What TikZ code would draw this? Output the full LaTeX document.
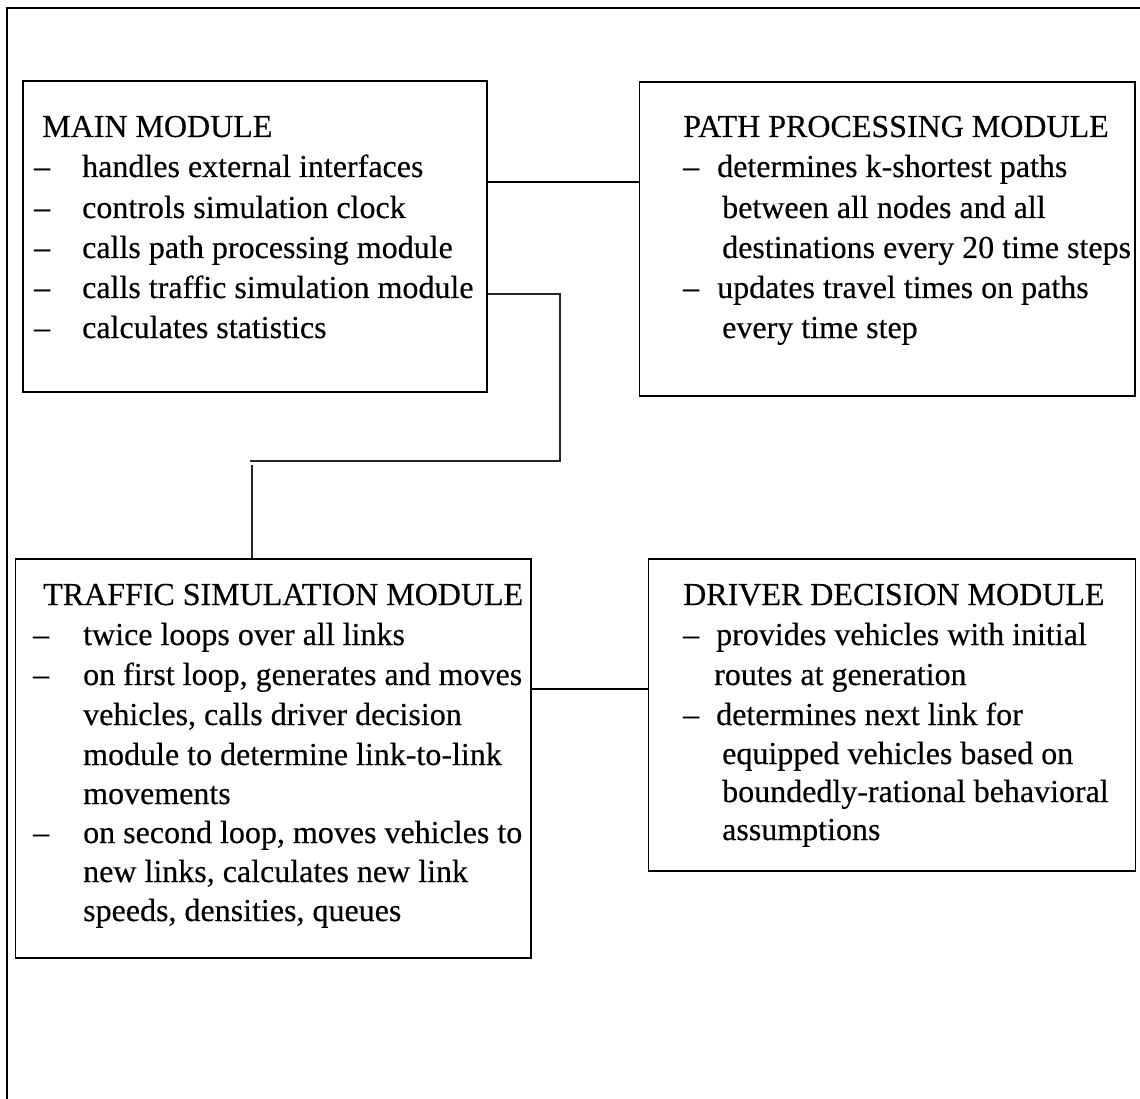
\documentclass[tikz,border=0pt]{standalone}
\usepackage{fontspec}
\setmainfont[FakeBold=0.35]{Liberation Serif}
\begin{document}
\begin{tikzpicture}[x=1pt,y=-1pt,
  box/.style={draw=black, line width=1.8pt, anchor=north west, inner sep=0pt},
  txt/.style={anchor=base west, inner sep=0pt, font=\fontsize{32}{38}\selectfont},
  link/.style={draw=black, line width=1.8pt},
  thinlink/.style={draw=black!85, line width=1.2pt}]
\useasboundingbox (0,0) rectangle (1140,1099);

% open frame: left and top edges only
\draw[line width=1.7pt] (7,1099) -- (7,8) -- (1140,8);

% module boxes
\node[box, minimum width=464pt, minimum height=311pt] (main) at (22,80) {};
\node[box, minimum width=495.5pt, minimum height=314pt] (path) at (638.5,81) {};
\node[box, minimum width=515.5pt, minimum height=399pt] (traffic) at (14.5,558) {};
\node[box, minimum width=487pt, minimum height=312pt] (driver) at (647.5,558) {};

% main module text
\node[txt] (m0) at (42,137) {MAIN MODULE};
\node[txt] (m1d) at (34,177) {--};
\node[txt] (m1) at (82,177) {handles external interfaces};
\node[txt] (m2d) at (34,218) {--};
\node[txt] (m2) at (82,218) {controls simulation clock};
\node[txt] (m3d) at (34,258) {--};
\node[txt] (m3) at (82,258) {calls path processing module};
\node[txt] (m4d) at (34,298) {--};
\node[txt] (m4) at (82,298) {calls traffic simulation module};
\node[txt] (m5d) at (34,338) {--};
\node[txt] (m5) at (82,338) {calculates statistics};

% path processing module text
\node[txt] (p0) at (683,137) {PATH PROCESSING MODULE};
\node[txt] (p1d) at (683,177) {--};
\node[txt] (p1) at (717,177) {determines k-shortest paths};
\node[txt] (p2) at (722,218) {between all nodes and all};
\node[txt] (p3) at (722,258) {destinations every 20 time steps};
\node[txt] (p4d) at (683,298) {--};
\node[txt] (p4) at (717,298) {updates travel times on paths};
\node[txt] (p5) at (722,338) {every time step};

% traffic simulation module text
\node[txt] (t0) at (43,605) {TRAFFIC SIMULATION MODULE};
\node[txt] (t1d) at (33,645) {--};
\node[txt] (t1) at (83,645) {twice loops over all links};
\node[txt] (t2d) at (33,685) {--};
\node[txt] (t2) at (83,685) {on first loop, generates and moves};
\node[txt] (t3) at (83,725) {vehicles, calls driver decision};
\node[txt] (t4) at (83,765) {module to determine link-to-link};
\node[txt] (t5) at (83,804) {movements};
\node[txt] (t6d) at (33,843) {--};
\node[txt] (t6) at (83,843) {on second loop, moves vehicles to};
\node[txt] (t7) at (83,882) {new links, calculates new link};
\node[txt] (t8) at (83,921) {speeds, densities, queues};

% driver decision module text
\node[txt] (d0) at (683,605) {DRIVER DECISION MODULE};
\node[txt] (d1d) at (683,645) {--};
\node[txt] (d1) at (716,645) {provides vehicles with initial};
\node[txt] (d2) at (714,685) {routes at generation};
\node[txt] (d3d) at (683,725) {--};
\node[txt] (d3) at (716,725) {determines next link for};
\node[txt] (d4) at (722,764) {equipped vehicles based on};
\node[txt] (d5) at (722,802) {boundedly-rational behavioral};
\node[txt] (d6) at (722,840) {assumptions};

% connectors
\coordinate (mp) at (560,182);
\draw[link] (main.east |- mp) -- (path.west |- mp);

\coordinate (td) at (590,689);
\draw[link] (traffic.east |- td) -- (driver.west |- td);

\coordinate (bendA) at (560,294);
\coordinate (bendB) at (560,461);
\coordinate (endB) at (250,461);
\coordinate (dropTop) at (252,465);
\draw[thinlink] (main.east |- bendA) -- (bendA) -- (bendB) -- (endB);
\draw[thinlink] (dropTop) -- (traffic.north -| dropTop);
\end{tikzpicture}
\end{document}
